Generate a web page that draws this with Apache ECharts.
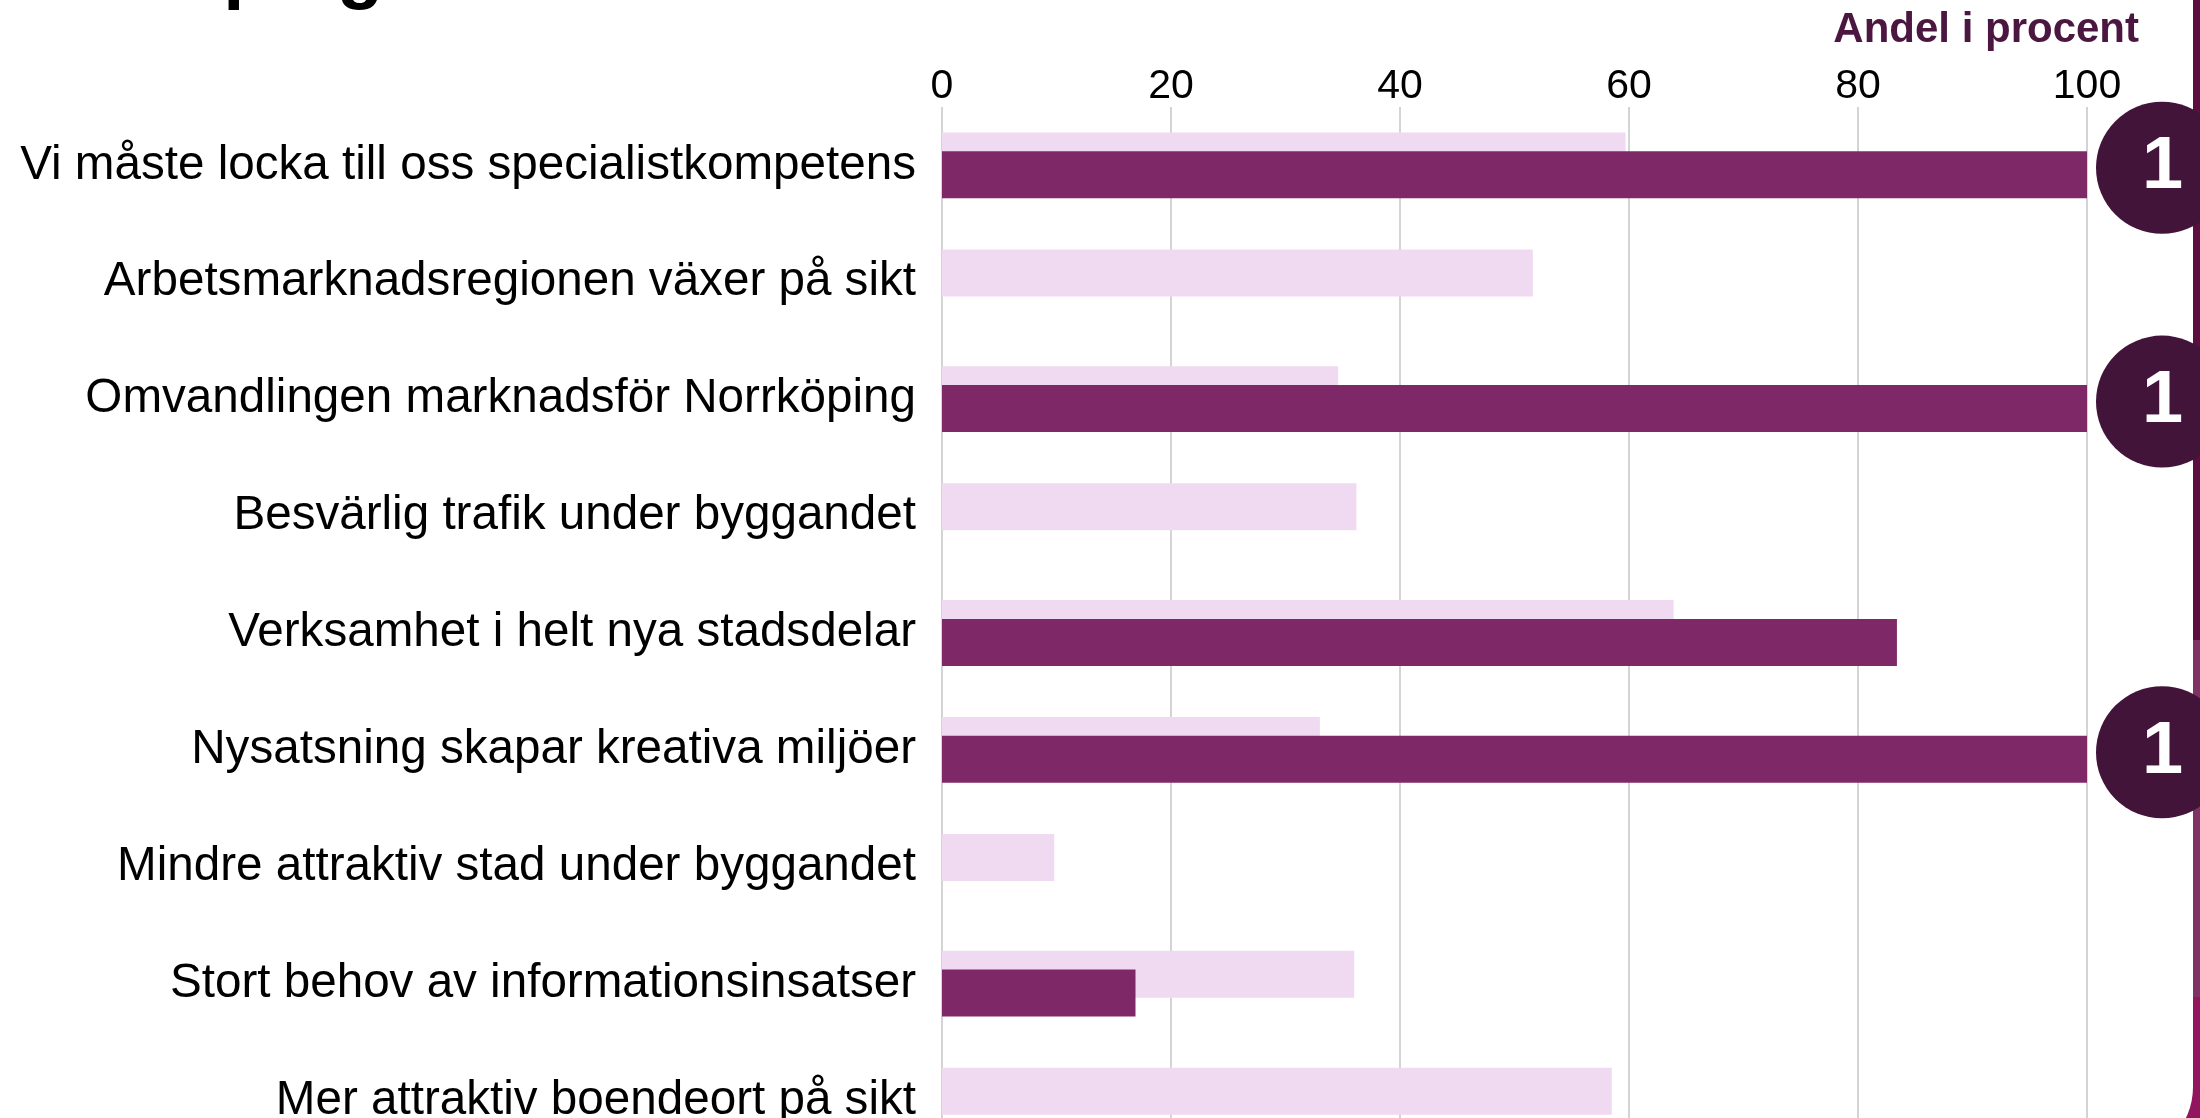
<!DOCTYPE html>
<html>
<head>
<meta charset="utf-8">
<script src="https://cdn.jsdelivr.net/npm/echarts@6/dist/echarts.min.js"></script>
<style>
  html, body { margin: 0; padding: 0; background: #fff; overflow: hidden; }
  #chart { width: 2200px; height: 1200px; }
</style>
</head>
<body>
<div id="chart"></div>
<script>
// kategorier uppifrån och ned
const categories = [
  "Vi måste locka till oss specialistkompetens",
  "Arbetsmarknadsregionen växer på sikt",
  "Omvandlingen marknadsför Norrköping",
  "Besvärlig trafik under byggandet",
  "Verksamhet i helt nya stadsdelar",
  "Nysatsning skapar kreativa miljöer",
  "Mindre attraktiv stad under byggandet",
  "Stort behov av informationsinsatser",
  "Mer attraktiv boendeort på sikt"
];
const lightValues = [59.7, 51.6, 34.6, 36.2, 63.9, 33.0, 9.8, 36.0, 58.5];
const darkValues = [100, null, 100, null, 83.4, 100, null, 16.9, null];
const badges = ["1", "", "1", "", "", "1", "", "", ""];
const xTicks = [0, 20, 40, 60, 80, 100];

const font = "'Liberation Sans', Arial, sans-serif";
const myChart = echarts.init(document.getElementById("chart"));

const option = {
  animation: false,
  title: {
    text: "Andel i procent",
    right: 56,
    top: 4,
    textStyle: { fontFamily: font, fontSize: 42, fontWeight: "bold", color: "#4b1741" }
  },
  graphic: [
    { type: "rect", z: -20, shape: { x: 2150, y: 0, width: 50, height: 640 }, style: { fill: "#5b0e3f" } },
    { type: "rect", z: -20, shape: { x: 2150, y: 640, width: 50, height: 357 }, style: { fill: "#7e3364" } },
    { type: "rect", z: -20, shape: { x: 2150, y: 997, width: 50, height: 203 }, style: { fill: "#91165f" } },
    { type: "rect", z: -10, shape: { x: -100, y: -100, width: 2293, height: 1259, r: [0, 0, 72, 0] }, style: { fill: "#fff" } },
    {
      type: "text", z: -5,
      style: { text: "Norrköping", x: -26, y: -27, verticalAlign: "middle", fill: "#000",
               font: "bold 76px 'Liberation Sans', Arial, sans-serif" }
    }
  ],
  grid: { left: 942, right: 113, top: 107, bottom: 41 },
  xAxis: {
    type: "value",
    position: "top",
    min: xTicks[0],
    max: xTicks[xTicks.length - 1],
    interval: xTicks[1] - xTicks[0],
    axisLine: { show: false },
    axisTick: { show: false },
    axisLabel: { margin: 0, color: "#000", fontFamily: font, fontSize: 41 },
    splitLine: { lineStyle: { color: "#d4d4d4", width: 2 } }
  },
  yAxis: {
    type: "category",
    inverse: true,
    data: categories,
    axisLine: { show: false },
    axisTick: { show: false },
    axisLabel: {
      interval: 0, margin: 26, color: "#000", fontFamily: font, fontSize: 47.6,
      verticalAlign: "middle", padding: [0, 0, 16, 0]
    }
  },
  series: [
    {
      type: "bar",
      data: lightValues,
      barWidth: 47,
      barGap: "-60%",
      itemStyle: { color: "#f0daf2" }
    },
    {
      type: "bar",
      barWidth: 47,
      barGap: "-60%",
      itemStyle: { color: "#7f2868" },
      data: darkValues.map((v, i) => ({
        value: v,
        label: { show: badges[i] !== "", formatter: badges[i] }
      })),
      label: {
        position: "right",
        distance: 9,
        offset: [0, -7],
        padding: [0, 45, 0, 46],
        lineHeight: 132,
        borderRadius: 66,
        backgroundColor: "#42143a",
        color: "#fff",
        fontFamily: font,
        fontSize: 74,
        fontWeight: "bold"
      }
    }
  ]
};
myChart.setOption(option);
</script>
</body>
</html>
